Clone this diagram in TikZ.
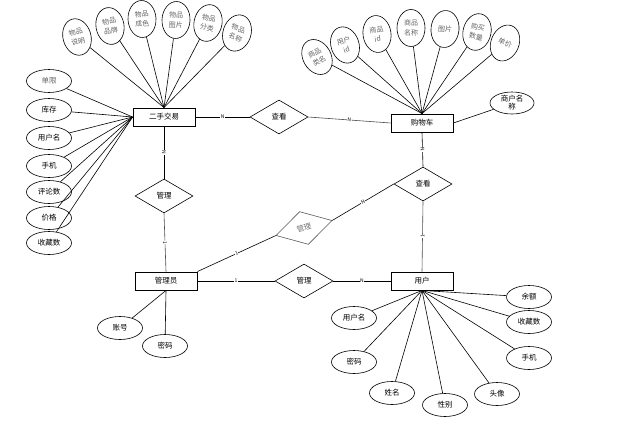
\documentclass[tikz,border=0pt]{standalone}
\usepackage{fontspec}
\setmainfont{Noto Sans CJK SC}
\usetikzlibrary{shapes.geometric}

\begin{document}
\begin{tikzpicture}[x=1pt, y=-1pt, line width=0.6pt,
    entity/.style = {rectangle, draw, line width=0.9pt, minimum width=62pt, minimum height=18pt, inner sep=0pt},
    relation/.style = {diamond, draw, aspect=1.7, minimum width=58pt, minimum height=34pt, inner sep=0pt},
    attribute/.style = {ellipse, draw, minimum width=45pt, minimum height=23pt, inner sep=0pt, align=center},
    tallattribute/.style = {ellipse, draw, minimum width=28pt, minimum height=37pt, inner sep=0pt, align=center, text=black!60, font=\fontsize{7pt}{9.5pt}\selectfont},
    card/.style = {sloped, fill=white, inner sep=0.4pt, font=\fontsize{5pt}{5pt}\selectfont},
    font=\fontsize{7.5pt}{8.5pt}\selectfont]
  \useasboundingbox (0, 0) rectangle (620, 436);

  % Entities.
  \node at (164, 117) [entity, name=Trade] {二手交易};
  \node at (422, 123) [entity, name=Cart] {购物车};
  \node at (166, 281) [entity, name=Admin] {管理员};
  \node at (422, 281) [entity, name=User] {用户};

  % Relations.
  \node at (279, 117) [relation, name=ViewTrade] {查看};
  \node at (164, 196) [relation, name=ManageTrade] {管理};
  \node at (423, 184) [relation, name=ViewUser] {查看};
  \node at (304, 281) [relation, name=ManageUser] {管理};
  \node at (304, 228) [relation, rotate=15, draw=black!65, text=black!55, name=ManageView] {管理};

  % Attributes of the trade.
  \node at (77, 37) [tallattribute, rotate=15, name=TradeDesc] {物品\\说明};
  \node at (110, 26) [tallattribute, rotate=10, name=TradeBrand] {物品\\品牌};
  \node at (142, 19) [tallattribute, rotate=3, name=TradeState] {物品\\成色};
  \node at (176, 20) [tallattribute, rotate=-3, name=TradePicture] {物品\\图片};
  \node at (208, 23) [tallattribute, rotate=-12, name=TradeKind] {物品\\分类};
  \node at (237, 33) [tallattribute, rotate=-18, name=TradeName] {物品\\名称};
  \node at (49, 81) [attribute, text=black!60, name=TradeLimit] {单限};
  \node at (49, 110) [attribute, name=TradeStock] {库存};
  \node at (49, 138) [attribute, name=TradeUser] {用户名};
  \node at (49, 166) [attribute, name=TradePhone] {手机};
  \node at (49, 192) [attribute, name=TradeComments] {评论数};
  \node at (49, 218) [attribute, name=TradePrice] {价格};
  \node at (49, 243) [attribute, name=TradeFavourites] {收藏数};

  % Attributes of the cart.
  \node at (317, 57) [tallattribute, rotate=30, name=CartKind] {商品\\类名};
  \node at (345, 45) [tallattribute, rotate=18, name=CartUser] {用户\\id};
  \node at (377, 34) [tallattribute, rotate=8, name=CartGoods] {商品\\id};
  \node at (411, 28) [tallattribute, rotate=0, name=CartName] {商品\\名称};
  \node at (445, 29) [tallattribute, rotate=-5, name=CartPicture] {图片};
  \node at (477, 32) [tallattribute, rotate=-13, name=CartAmount] {购买\\数量};
  \node at (505, 43) [tallattribute, rotate=-22, name=CartPrice] {单价};
  \node at (512, 103) [attribute, minimum width=44pt, minimum height=22pt, font=\fontsize{7.5pt}{8pt}\selectfont, name=CartShop] {商户名\\称};

  % Attributes of the admin.
  \node at (120, 328) [attribute, name=AdminAccount] {账号};
  \node at (165, 346) [attribute, name=AdminPassword] {密码};

  % Attributes of the user.
  \node at (529, 297) [attribute, name=UserBalance] {余额};
  \node at (529, 322) [attribute, name=UserFavourites] {收藏数};
  \node at (529, 358) [attribute, name=UserPhone] {手机};
  \node at (497, 394) [attribute, name=UserAvatar] {头像};
  \node at (445, 405) [attribute, name=UserGender] {性别};
  \node at (392, 393) [attribute, name=UserName] {姓名};
  \node at (354, 362) [attribute, name=UserPassword] {密码};
  \node at (354, 318) [attribute, name=UserLogin] {用户名};

  % Relations between entities.
  \draw (Trade.east)
        to node [card] {N}
        (ViewTrade.west);
  \draw [draw=black!70] (ViewTrade.east)
        to node [card] {N}
        (Cart.west);
  \draw (Cart.south)
        to node [card] {N}
        (ViewUser.north);
  \draw [draw=black!70] (ViewUser.south)
        to node [card] {1}
        (User.north);
  \draw (Trade.south)
        to node [card] {N}
        (ManageTrade.north);
  \draw [draw=black!70] (ManageTrade.south)
        to node [card] {1}
        (Admin.north);
  \draw (Admin.north east)
        to node [card] {1}
        (ManageView.west);
  \draw (ManageView.east)
        to node [card] {N}
        (ViewUser.west);
  \draw (Admin.east)
        to node [card] {1}
        (ManageUser.west);
  \draw (ManageUser.east)
        to node [card] {N}
        (User.west);

  % Attribute links of the trade.
  \draw (TradeDesc) to (Trade.north);
  \draw (TradeBrand) to (Trade.north);
  \draw (TradeState) to (Trade.north);
  \draw (TradePicture) to (Trade.north);
  \draw (TradeKind) to (Trade.north);
  \draw (TradeName) to (Trade.north);
  \draw (TradeLimit) to (Trade.west);
  \draw (TradeStock) to (Trade.west);
  \draw (TradeUser) to (Trade.west);
  \draw (TradePhone) to (Trade.west);
  \draw (TradeComments) to (Trade.west);
  \draw (TradePrice) to (Trade.west);
  \draw (TradeFavourites) to (Trade.west);

  % Attribute links of the cart.
  \draw (CartKind) to (Cart.north);
  \draw (CartUser) to (Cart.north);
  \draw (CartGoods) to (Cart.north);
  \draw (CartName) to (Cart.north);
  \draw (CartPicture) to (Cart.north);
  \draw (CartAmount) to (Cart.north);
  \draw (CartPrice) to (Cart.north);
  \draw (CartShop) to (Cart.east);

  % Attribute links of the admin and the user.
  \draw (AdminAccount) to (Admin.south);
  \draw (AdminPassword) to (Admin.south);
  \draw (UserBalance) to (User.south);
  \draw (UserFavourites) to (User.south);
  \draw (UserPhone) to (User.south);
  \draw (UserAvatar) to (User.south);
  \draw (UserGender) to (User.south);
  \draw (UserName) to (User.south);
  \draw (UserPassword) to (User.south);
  \draw (UserLogin) to (User.south);
\end{tikzpicture}
\end{document}
